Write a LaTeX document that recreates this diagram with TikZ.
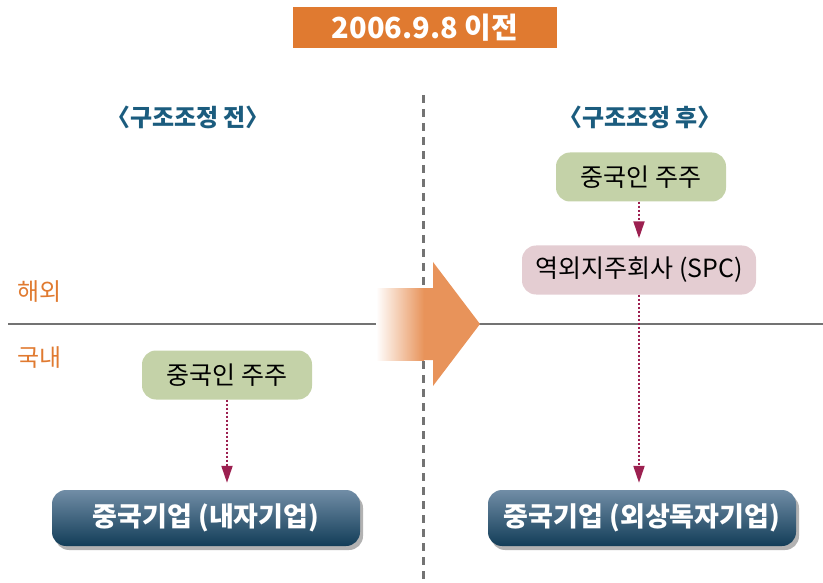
\documentclass[tikz,border=0pt]{standalone}
\usepackage{fontspec}
\setmainfont{Noto Sans CJK KR}
\usetikzlibrary{arrows.meta,shadows}
\definecolor{titleor}{HTML}{E07A30}
\definecolor{arrowor}{HTML}{E8935A}
\definecolor{labteal}{HTML}{1B5C7E}
\definecolor{greenbox}{HTML}{C4D2A8}
\definecolor{pinkbox}{HTML}{E4CDD2}
\definecolor{darktop}{HTML}{718DA6}
\definecolor{darkbot}{HTML}{123D58}
\definecolor{linkred}{HTML}{9C2050}
\begin{document}
\begin{tikzpicture}[x=1pt,y=-1pt,
  hold/.style={rounded corners=14pt, minimum width=170pt, minimum height=49pt, font=\fontsize{25}{28}\selectfont},
  corp/.style={rounded corners=14pt, minimum width=308pt, minimum height=56pt, text=white, font=\fontsize{27}{30}\selectfont\bfseries, top color=darktop, bottom color=darkbot, drop shadow={shadow xshift=3pt, shadow yshift=-4pt, fill=black!30, opacity=1}},
  link/.style={linkred, line width=2pt, dotted, -{Triangle[width=11pt,length=17pt]}, shorten >=7pt},
  zone/.style={titleor, font=\fontsize{24}{28}\selectfont}]
\useasboundingbox (0,0) rectangle (823,583);
% frame lines
\coordinate (lineW) at (8,324);
\coordinate (lineE) at (823,324);
\coordinate (cutN) at (423,95);
\coordinate (cutS) at (423,583);
\draw[gray!90!black, line width=1.3pt] (lineW) -- (lineE);
\draw[gray!90!black, line width=3pt, dash pattern=on 8pt off 6pt] (cutN) -- (cutS);
% big arrow
\fill[arrowor] (376,288) -- (433,288) -- (433,262) -- (480,324) -- (433,386) -- (433,360) -- (376,360) -- cycle;
\shade[left color=white, right color=arrowor] (376,288) rectangle (424,360);
% headings
\node[fill=titleor, minimum width=264pt, minimum height=41pt, text=white, font=\fontsize{29}{32}\selectfont\bfseries] (title) at (425,28) {2006.9.8 이전};
\node[labteal, font=\fontsize{24}{28}\selectfont\bfseries] (before) at (188,117) {〈구조조정 전〉};
\node[labteal, font=\fontsize{24}{28}\selectfont\bfseries] (after) at (640,117) {〈구조조정 후〉};
\node[zone] (abroad) at (40,292) {해외};
\node[zone] (home) at (40,358) {국내};
% before
\node[hold, fill=greenbox] (hold0) at (227,375) {중국인 주주};
\node[corp] (corp0) at (206,518) {중국기업 (내자기업)};
\draw[link] (hold0.south) -- (hold0.south |- corp0.north);
% after
\node[hold, fill=greenbox] (hold1) at (641,177) {중국인 주주};
\node[hold, fill=pinkbox, minimum width=234pt] (spc1) at (639,270) {역외지주회사 (SPC)};
\node[corp] (corp1) at (642,518) {중국기업 (외상독자기업)};
\draw[link] (hold1.south -| spc1.north) -- (spc1.north);
\draw[link] (spc1.south) -- (spc1.south |- corp1.north);
\end{tikzpicture}
\end{document}
